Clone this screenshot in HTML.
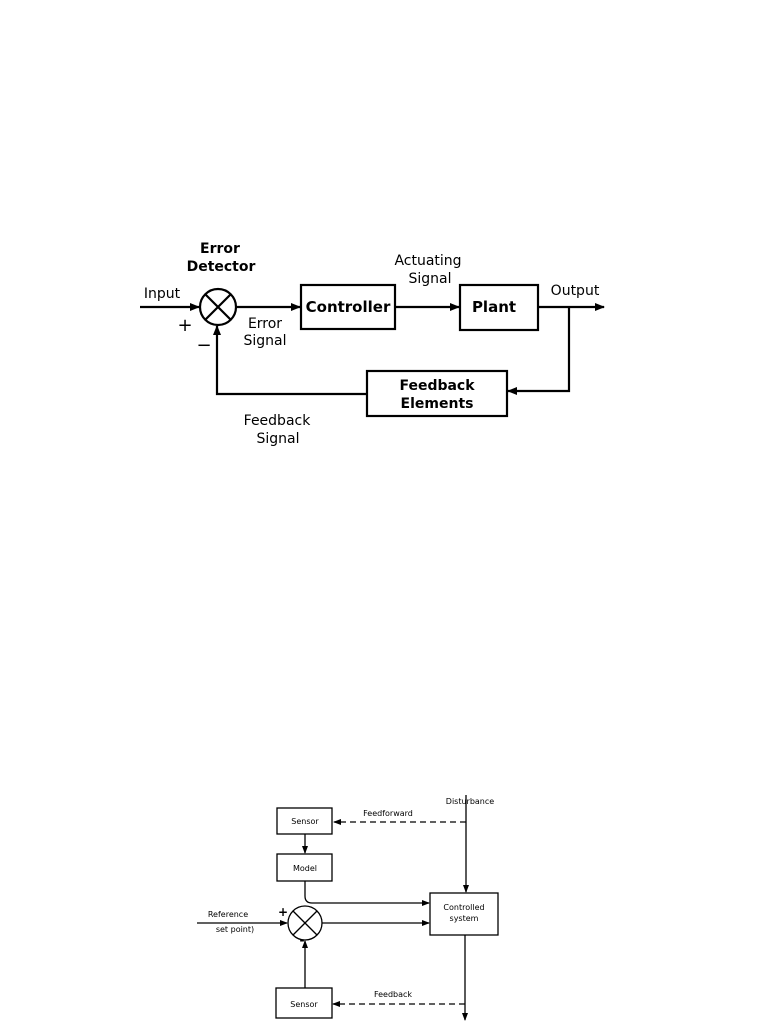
<!DOCTYPE html>
<html><head><meta charset="utf-8"><style>
html,body{margin:0;padding:0;background:#fff;}
svg{display:block;}
</style></head><body>
<svg width="768" height="1024" viewBox="0 0 768 1024" xmlns="http://www.w3.org/2000/svg" font-family="'DejaVu Sans','Liberation Sans',sans-serif">
<defs>
<marker id="a" markerWidth="10" markerHeight="10" refX="9" refY="5" orient="auto" markerUnits="userSpaceOnUse"><path d="M0,1 L10,5 L0,9 Z" fill="#000"/></marker>
<marker id="b" markerWidth="8" markerHeight="8" refX="7" refY="4" orient="auto" markerUnits="userSpaceOnUse"><path d="M0,1 L8,4 L0,7 Z" fill="#000"/></marker>
</defs>
<rect width="768" height="1024" fill="#fff"/>
<!-- Top diagram -->
<g stroke="#000" stroke-width="2.2" fill="none">
<line x1="140" y1="307" x2="199" y2="307" marker-end="url(#a)"/>
<circle cx="218" cy="307" r="18"/>
<line x1="205" y1="294" x2="231" y2="320"/>
<line x1="231" y1="294" x2="205" y2="320"/>
<line x1="236" y1="307" x2="300" y2="307" marker-end="url(#a)"/>
<rect x="301" y="285" width="94" height="44"/>
<line x1="395" y1="307" x2="459" y2="307" marker-end="url(#a)"/>
<rect x="460" y="285" width="78" height="45"/>
<line x1="538" y1="307" x2="604" y2="307" marker-end="url(#a)"/>
<polyline points="569,307 569,391 508,391" marker-end="url(#a)"/>
<rect x="367" y="371" width="140" height="45"/>
<polyline points="367,394 217,394 217,326" marker-end="url(#a)"/>
</g>
<g font-size="14" text-anchor="middle" fill="#000">
<text x="220" y="253" font-weight="bold">Error</text>
<text x="221" y="271" font-weight="bold">Detector</text>
<text x="428" y="265">Actuating</text>
<text x="430" y="283">Signal</text>
<text x="162" y="298">Input</text>
<text x="575" y="295">Output</text>
<text x="185" y="331" font-size="18">+</text>
<text x="204" y="351" font-size="18">−</text>
<text x="265" y="328">Error</text>
<text x="265" y="345">Signal</text>
<text x="277" y="425">Feedback</text>
<text x="278" y="443">Signal</text>
<text x="348" y="312" font-weight="bold" font-size="15">Controller</text>
<text x="494" y="312" font-weight="bold" font-size="15">Plant</text>
<text x="437" y="390" font-weight="bold">Feedback</text>
<text x="437" y="408" font-weight="bold">Elements</text>
</g>
<!-- Bottom diagram -->
<g stroke="#000" stroke-width="1.3" fill="none">
<rect x="277" y="808" width="55" height="26"/>
<rect x="277" y="854" width="55" height="27"/>
<line x1="305" y1="834" x2="305" y2="853" marker-end="url(#b)"/>
<line x1="466" y1="795" x2="466" y2="892" marker-end="url(#b)"/>
<line x1="466" y1="822" x2="334" y2="822" stroke-dasharray="6,4" marker-end="url(#b)"/>
<path d="M305,881 L305,896 Q305,903 312,903 L429,903" marker-end="url(#b)"/>
<rect x="430" y="893" width="68" height="42"/>
<circle cx="305" cy="923" r="17"/>
<line x1="293" y1="911" x2="317" y2="935"/>
<line x1="317" y1="911" x2="293" y2="935"/>
<line x1="197" y1="923" x2="287" y2="923" marker-end="url(#b)"/>
<line x1="322" y1="923" x2="429" y2="923" marker-end="url(#b)"/>
<rect x="276" y="988" width="56" height="30"/>
<line x1="305" y1="988" x2="305" y2="941" marker-end="url(#b)"/>
<line x1="465" y1="935" x2="465" y2="1020" marker-end="url(#b)"/>
<line x1="465" y1="1004" x2="333" y2="1004" stroke-dasharray="6,4" marker-end="url(#b)"/>
</g>
<g font-size="8" text-anchor="middle" fill="#000">
<text x="305" y="824">Sensor</text>
<text x="305" y="871">Model</text>
<text x="304" y="1007">Sensor</text>
<text x="464" y="910">Controlled</text>
<text x="464" y="921">system</text>
<text x="470" y="804">Disturbance</text>
<text x="388" y="816">Feedforward</text>
<text x="393" y="997">Feedback</text>
<text x="228" y="917">Reference</text>
<text x="235" y="932">set point)</text>
<text x="283" y="916" font-size="12" font-weight="bold">+</text>
<text x="302" y="944" font-size="12" font-weight="bold">-</text>
</g>
</svg>
</body></html>
